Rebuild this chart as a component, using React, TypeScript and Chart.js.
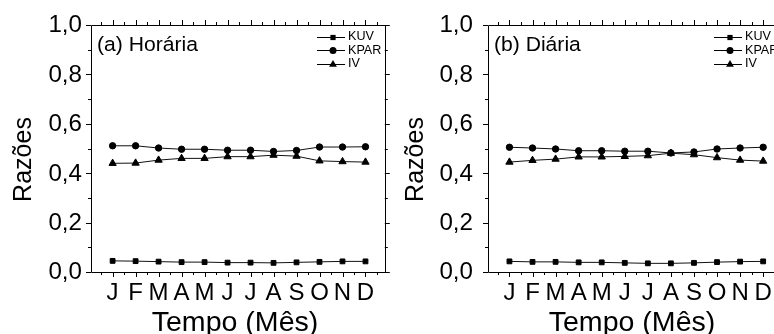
import React, { useEffect, useRef } from 'react';
import { Chart, registerables } from 'chart.js';
Chart.register(...registerables);

const months = ['J', 'F', 'M', 'A', 'M', 'J', 'J', 'A', 'S', 'O', 'N', 'D'];
const yTicks = [0, 0.2, 0.4, 0.6, 0.8, 1.0];
const seriesNames = ['KUV', 'KPAR', 'IV'];

// (a) Horária
const kuvH = [0.045, 0.044, 0.042, 0.040, 0.040, 0.038, 0.038, 0.037, 0.039, 0.041, 0.043, 0.043];
const kparH = [0.511, 0.511, 0.502, 0.497, 0.497, 0.493, 0.493, 0.488, 0.492, 0.506, 0.506, 0.507];
const ivH = [0.440, 0.441, 0.453, 0.460, 0.460, 0.467, 0.467, 0.473, 0.469, 0.450, 0.447, 0.445];

// (b) Diária
const kuvD = [0.043, 0.041, 0.041, 0.039, 0.039, 0.037, 0.035, 0.035, 0.037, 0.040, 0.042, 0.043];
const kparD = [0.505, 0.502, 0.498, 0.491, 0.491, 0.489, 0.489, 0.482, 0.486, 0.498, 0.502, 0.505];
const ivD = [0.445, 0.452, 0.457, 0.466, 0.466, 0.468, 0.471, 0.481, 0.475, 0.463, 0.453, 0.449];

const FONT = '"Liberation Sans", Arial, sans-serif';
const STYLES = ['rect', 'circle', 'triangle'];
const RADII = [3.4, 3.2, 4.2];

function drawText(ctx, text, x, y, size, align, baseline, sx = 1, rot = 0) {
  ctx.save();
  ctx.translate(x, y);
  if (rot) ctx.rotate(rot);
  ctx.scale(sx, 1);
  ctx.font = `${size}px ${FONT}`;
  ctx.fillStyle = '#000';
  ctx.textAlign = align;
  ctx.textBaseline = baseline;
  ctx.fillText(text, 0, 0);
  ctx.restore();
}

function drawMarker(ctx, style, x, y, r) {
  ctx.save();
  ctx.fillStyle = '#000';
  ctx.beginPath();
  if (style === 'rect') {
    const s = r * Math.SQRT1_2;
    ctx.rect(x - s, y - s, 2 * s, 2 * s);
  } else if (style === 'circle') {
    ctx.arc(x, y, r, 0, Math.PI * 2);
  } else {
    for (let k = 0; k < 3; k++) {
      const a = -Math.PI / 2 + k * (2 * Math.PI / 3);
      const px = x + Math.cos(a) * r;
      const py = y + Math.sin(a) * r;
      if (k === 0) ctx.moveTo(px, py); else ctx.lineTo(px, py);
    }
    ctx.closePath();
  }
  ctx.fill();
  ctx.restore();
}

function Panel({ left, width, areaLeft, padRight, xMin, xMax, label, kuv, kpar, iv, tickGap, razX }) {
  const ref = useRef(null);
  useEffect(() => {
    const series = [kuv, kpar, iv];
    const framePlugin = {
      id: 'frame',
      afterDraw(chart) {
        const ctx = chart.ctx;
        const { left: L, right: R, top: T, bottom: B } = chart.chartArea;
        const xs = chart.scales.x;
        const ys = chart.scales.y;
        ctx.save();
        ctx.strokeStyle = '#000';
        ctx.lineWidth = 1;
        ctx.beginPath();
        ctx.rect(Math.round(L) + 0.5, Math.round(T) + 0.5, Math.round(R - L), Math.round(B - T));
        ctx.stroke();
        ctx.beginPath();
        for (let v = 0; v <= 10; v++) {
          const py = Math.round(ys.getPixelForValue(v / 10)) + 0.5;
          const len = v % 2 === 0 ? 5 : 3;
          ctx.moveTo(L, py); ctx.lineTo(L - len, py);
          ctx.moveTo(R, py); ctx.lineTo(R + len, py);
        }
        for (let m = 0.5; m <= 12.5; m += 0.5) {
          const px = Math.round(xs.getPixelForValue(m)) + 0.5;
          const len = Number.isInteger(m) ? 5 : 3;
          ctx.moveTo(px, B); ctx.lineTo(px, B + len);
          ctx.moveTo(px, T); ctx.lineTo(px, T - len);
        }
        ctx.stroke();
        ctx.restore();

        ys.ticks.forEach((t) => {
          const py = ys.getPixelForValue(t.value);
          drawText(ctx, t.value.toFixed(1).replace('.', ','), L - tickGap, py + 1, 23, 'right', 'middle', 1.05);
        });
        xs.ticks.forEach((t) => {
          const px = xs.getPixelForValue(t.value);
          drawText(ctx, months[t.value - 1], px, 300, 24, 'center', 'alphabetic', 1);
        });

        drawText(ctx, 'Tempo (Mês)', L + 144, 331, 28, 'center', 'alphabetic', 1.02);
        drawText(ctx, 'Razões', razX, (T + B) / 2 + 11, 25, 'center', 'alphabetic', 1, -Math.PI / 2);

        drawText(ctx, label, L + 6, 51, 20.5, 'left', 'alphabetic', 1.03);

        const rows = [36.5, 50, 63.5];
        rows.forEach((ry, i) => {
          ctx.save();
          ctx.strokeStyle = '#000';
          ctx.lineWidth = 1;
          ctx.beginPath();
          ctx.moveTo(L + 226, Math.round(ry) + 0.5);
          ctx.lineTo(L + 254, Math.round(ry) + 0.5);
          ctx.stroke();
          ctx.restore();
          drawMarker(ctx, STYLES[i], L + 242, Math.round(ry) + 0.5, RADII[i] + 0.3);
          drawText(ctx, seriesNames[i], L + 257, ry + 0.5, 12, 'left', 'middle', 1.05);
        });
      },
    };

    const chart = new Chart(ref.current, {
      type: 'line',
      data: {
        datasets: series.map((arr, i) => ({
          label: seriesNames[i],
          data: arr.map((v, k) => ({ x: k + 1, y: v })),
          borderColor: '#111',
          borderWidth: 1,
          pointStyle: STYLES[i],
          pointRadius: RADII[i],
          pointBackgroundColor: '#000',
          pointBorderColor: '#000',
          pointBorderWidth: 1,
          tension: 0,
          fill: false,
        })),
      },
      options: {
        responsive: false,
        animation: false,
        devicePixelRatio: 1,
        layout: { padding: { top: 25, right: padRight, left: 0, bottom: 0 } },
        plugins: { legend: { display: false }, tooltip: { enabled: false } },
        scales: {
          x: {
            type: 'linear',
            min: xMin,
            max: xMax,
            grid: { display: false },
            border: { display: false },
            ticks: { display: false },
            afterBuildTicks: (s) => { s.ticks = months.map((_, i) => ({ value: i + 1 })); },
            afterFit: (s) => { s.height = 334 - 272; },
          },
          y: {
            type: 'linear',
            min: 0,
            max: 1,
            grid: { display: false },
            border: { display: false },
            ticks: { display: false },
            afterBuildTicks: (s) => { s.ticks = yTicks.map((v) => ({ value: v })); },
            afterFit: (s) => { s.width = areaLeft; },
          },
        },
      },
      plugins: [framePlugin],
    });
    return () => chart.destroy();
  }, []);
  return (
    <canvas
      ref={ref}
      width={width}
      height={334}
      style={{ position: 'absolute', left, top: 0, width, height: 334, display: 'block' }}
    />
  );
}

export default function App() {
  return (
    <div style={{ position: 'fixed', left: 0, top: 0, width: 774, height: 334, overflow: 'hidden', background: '#fff' }}>
      <Panel left={0} width={390} areaLeft={91} padRight={4} xMin={0.06} xMax={12.84}
        label="(a) Horária" kuv={kuvH} kpar={kparH} iv={ivH} tickGap={9} razX={31} />
      <Panel left={390} width={400} areaLeft={98} padRight={7} xMin={0.07} xMax={12.86}
        label="(b) Diária" kuv={kuvD} kpar={kparD} iv={ivD} tickGap={15} razX={33} />
    </div>
  );
}
